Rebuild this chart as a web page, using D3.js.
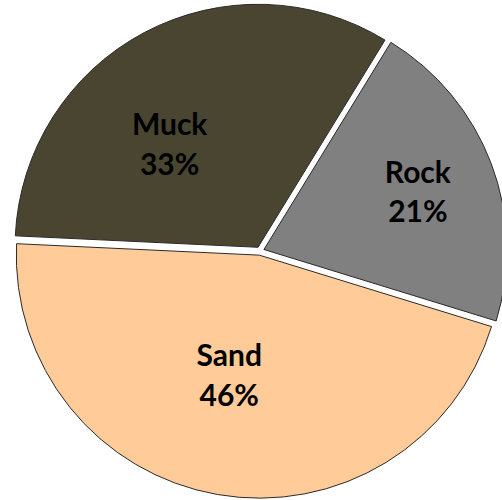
<!DOCTYPE html>
<html>
<head>
<meta charset="utf-8">
<script src="https://cdn.jsdelivr.net/npm/d3@7"></script>
<style>
  html, body { margin: 0; padding: 0; background: #fff; }
  svg { display: block; }
</style>
</head>
<body>
<svg id="chart" width="502" height="500"></svg>
<script>
// Data
const categories = ["Muck", "Rock", "Sand"];
const values = [33, 21, 46];
const percentLabels = ["33%", "21%", "46%"];
const colors = ["#4A4530", "#808080", "#FFCC99"];

// Layout (styling, not data)
const W = 502, H = 500;
const cx = 260, cy = 251, R = 243;
const explode = 4.2;
const startDeg = -87.3;
const labelRadius = [135, 164, 125];
const labelAngleNudgeDeg = [-13, 0.5, 4];

const svg = d3.select("#chart");
const g = svg.append("g").attr("transform", `translate(${cx},${cy})`);

const pie = d3.pie().sort(null)
  .startAngle(startDeg * Math.PI / 180)
  .endAngle(startDeg * Math.PI / 180 + 2 * Math.PI);
const arcs = pie(values);
const arc = d3.arc().innerRadius(0).outerRadius(R);

const slice = g.selectAll("g.slice").data(arcs).enter().append("g")
  .attr("class", "slice")
  .attr("transform", d => {
    const a = (d.startAngle + d.endAngle) / 2;
    return `translate(${explode * Math.sin(a)},${-explode * Math.cos(a)})`;
  });

slice.append("path")
  .attr("d", arc)
  .attr("fill", (d, i) => colors[i])
  .attr("stroke", "#2a2a2a")
  .attr("stroke-width", 1)
  .attr("stroke-linejoin", "round");

const labels = slice.append("text")
  .attr("transform", (d, i) => {
    const a = (d.startAngle + d.endAngle) / 2 + labelAngleNudgeDeg[i] * Math.PI / 180;
    const r = labelRadius[i];
    return `translate(${r * Math.sin(a)},${-r * Math.cos(a)})`;
  })
  .attr("text-anchor", "middle")
  .attr("font-family", "Lato, 'Open Sans', sans-serif")
  .attr("font-weight", "bold")
  .attr("font-size", 30)
  .attr("fill", "#000");

labels.append("tspan").attr("x", 0).attr("dy", -10).text((d, i) => categories[i]);
labels.append("tspan").attr("x", 0).attr("dy", 39.5).text((d, i) => percentLabels[i]);
</script>
</body>
</html>
